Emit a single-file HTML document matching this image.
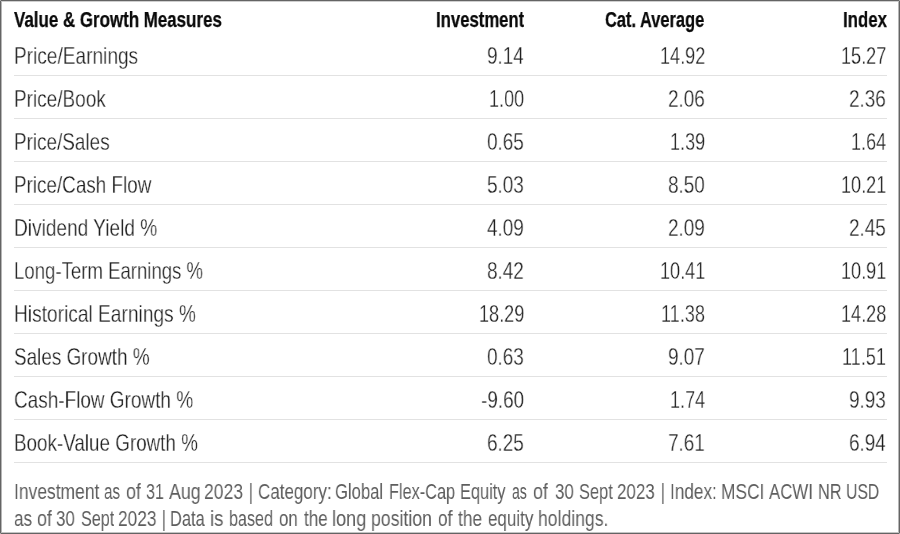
<!DOCTYPE html>
<html><head><meta charset="utf-8"><title>Value &amp; Growth Measures</title>
<style>
html,body{margin:0;padding:0;background:#fff}
#w{position:relative;width:900px;height:534px;overflow:hidden;background:#fff;font-family:"Liberation Sans", sans-serif}
#w span{position:absolute;will-change:transform;white-space:pre;transform-origin:0 0;display:block}
.h{-webkit-text-stroke:0.25px #0a0a0a}
.r{-webkit-text-stroke:0.3px #fff}
#w i{position:absolute;left:14px;width:873px;height:1px;background:#e2e2e2}
#bd{position:absolute;left:0;top:0;width:900px;height:534px;box-sizing:border-box;border:1px solid #646464}
#bd:before{content:"";position:absolute;left:0;top:0;right:0;bottom:0;border-style:solid;border-width:1px;border-color:#cfcfcf #b6b6b6 #c4c4c4 #b6b6b6}
#bd b{position:absolute;width:1px;height:1px;background:#a8a8a8}
.h{font-size:21.6px;line-height:30px;font-weight:bold;color:#0a0a0a}.r{font-size:24.0px;line-height:30px;font-weight:normal;color:#202020}.f{font-size:21.3px;line-height:30px;font-weight:normal;color:#5e5e5e}
</style></head><body><div id="w">
<i style="top:75px"></i><i style="top:118px"></i><i style="top:161px"></i><i style="top:204px"></i><i style="top:247px"></i><i style="top:290px"></i><i style="top:333px"></i><i style="top:376px"></i><i style="top:419px"></i><i style="top:462px"></i>
<span class="h" style="left:14.20px;top:5px;transform:scaleX(0.7836)">Value &amp; Growth Measures</span>
<span class="h" style="left:436.13px;top:5px;transform:scaleX(0.7739)">Investment</span>
<span class="h" style="left:605.20px;top:5px;transform:scaleX(0.7606)">Cat. Average</span>
<span class="h" style="left:842.62px;top:5px;transform:scaleX(0.7781)">Index</span>
<span class="r" style="left:13.70px;top:41px;transform:scaleX(0.7951)">Price/Earnings</span>
<span class="r" style="left:487.47px;top:41px;transform:scaleX(0.7879)">9.14</span>
<span class="r" style="left:659.78px;top:41px;transform:scaleX(0.7540)">14.92</span>
<span class="r" style="left:840.78px;top:41px;transform:scaleX(0.7540)">15.27</span>
<span class="r" style="left:13.71px;top:84px;transform:scaleX(0.7910)">Price/Book</span>
<span class="r" style="left:489.04px;top:84px;transform:scaleX(0.7540)">1.00</span>
<span class="r" style="left:668.27px;top:84px;transform:scaleX(0.7879)">2.06</span>
<span class="r" style="left:849.27px;top:84px;transform:scaleX(0.7879)">2.36</span>
<span class="r" style="left:13.71px;top:127px;transform:scaleX(0.7875)">Price/Sales</span>
<span class="r" style="left:487.47px;top:127px;transform:scaleX(0.7879)">0.65</span>
<span class="r" style="left:669.84px;top:127px;transform:scaleX(0.7540)">1.39</span>
<span class="r" style="left:850.84px;top:127px;transform:scaleX(0.7540)">1.64</span>
<span class="r" style="left:13.71px;top:170px;transform:scaleX(0.7856)">Price/Cash Flow</span>
<span class="r" style="left:487.47px;top:170px;transform:scaleX(0.7879)">5.03</span>
<span class="r" style="left:668.27px;top:170px;transform:scaleX(0.7879)">8.50</span>
<span class="r" style="left:840.78px;top:170px;transform:scaleX(0.7540)">10.21</span>
<span class="r" style="left:13.70px;top:213px;transform:scaleX(0.7952)">Dividend Yield %</span>
<span class="r" style="left:487.47px;top:213px;transform:scaleX(0.7879)">4.09</span>
<span class="r" style="left:668.27px;top:213px;transform:scaleX(0.7879)">2.09</span>
<span class="r" style="left:849.27px;top:213px;transform:scaleX(0.7879)">2.45</span>
<span class="r" style="left:13.73px;top:256px;transform:scaleX(0.7744)">Long-Term Earnings %</span>
<span class="r" style="left:487.47px;top:256px;transform:scaleX(0.7879)">8.42</span>
<span class="r" style="left:659.78px;top:256px;transform:scaleX(0.7540)">10.41</span>
<span class="r" style="left:840.78px;top:256px;transform:scaleX(0.7540)">10.91</span>
<span class="r" style="left:13.70px;top:299px;transform:scaleX(0.7978)">Historical Earnings %</span>
<span class="r" style="left:478.98px;top:299px;transform:scaleX(0.7540)">18.29</span>
<span class="r" style="left:661.12px;top:299px;transform:scaleX(0.7540)">11.38</span>
<span class="r" style="left:840.78px;top:299px;transform:scaleX(0.7540)">14.28</span>
<span class="r" style="left:13.71px;top:342px;transform:scaleX(0.7878)">Sales Growth %</span>
<span class="r" style="left:487.47px;top:342px;transform:scaleX(0.7879)">0.63</span>
<span class="r" style="left:668.27px;top:342px;transform:scaleX(0.7879)">9.07</span>
<span class="r" style="left:842.12px;top:342px;transform:scaleX(0.7540)">11.51</span>
<span class="r" style="left:13.71px;top:385px;transform:scaleX(0.7898)">Cash-Flow Growth %</span>
<span class="r" style="left:481.17px;top:385px;transform:scaleX(0.7879)">-9.60</span>
<span class="r" style="left:669.84px;top:385px;transform:scaleX(0.7540)">1.74</span>
<span class="r" style="left:849.27px;top:385px;transform:scaleX(0.7879)">9.93</span>
<span class="r" style="left:13.72px;top:428px;transform:scaleX(0.7846)">Book-Value Growth %</span>
<span class="r" style="left:487.47px;top:428px;transform:scaleX(0.7879)">6.25</span>
<span class="r" style="left:668.27px;top:428px;transform:scaleX(0.7879)">7.61</span>
<span class="r" style="left:849.27px;top:428px;transform:scaleX(0.7879)">6.94</span>
<span class="f" style="left:14.08px;top:477px;transform:scaleX(0.8194)">Investment</span>
<span class="f" style="left:104.30px;top:477px;transform:scaleX(0.7187)">as</span>
<span class="f" style="left:125.70px;top:477px;transform:scaleX(0.8406)">of</span>
<span class="f" style="left:145.70px;top:477px;transform:scaleX(0.7573)">31</span>
<span class="f" style="left:169.00px;top:477px;transform:scaleX(0.8367)">Aug</span>
<span class="f" style="left:203.87px;top:477px;transform:scaleX(0.8258)">2023</span>
<span class="f" style="left:248.83px;top:477px;transform:scaleX(0.6667)">|</span>
<span class="f" style="left:257.90px;top:477px;transform:scaleX(0.7974)">Category:</span>
<span class="f" style="left:335.22px;top:477px;transform:scaleX(0.7805)">Global</span>
<span class="f" style="left:388.53px;top:477px;transform:scaleX(0.7652)">Flex-Cap</span>
<span class="f" style="left:460.23px;top:477px;transform:scaleX(0.7687)">Equity</span>
<span class="f" style="left:512.30px;top:477px;transform:scaleX(0.6592)">as</span>
<span class="f" style="left:533.30px;top:477px;transform:scaleX(0.8406)">of</span>
<span class="f" style="left:555.00px;top:477px;transform:scaleX(0.7968)">30</span>
<span class="f" style="left:578.90px;top:477px;transform:scaleX(0.7700)">Sept</span>
<span class="f" style="left:616.90px;top:477px;transform:scaleX(0.7972)">2023</span>
<span class="f" style="left:660.83px;top:477px;transform:scaleX(0.6667)">|</span>
<span class="f" style="left:670.39px;top:477px;transform:scaleX(0.8076)">Index:</span>
<span class="f" style="left:720.89px;top:477px;transform:scaleX(0.8147)">MSCI</span>
<span class="f" style="left:769.30px;top:477px;transform:scaleX(0.7898)">ACWI</span>
<span class="f" style="left:817.53px;top:477px;transform:scaleX(0.7658)">NR</span>
<span class="f" style="left:846.06px;top:477px;transform:scaleX(0.7388)">USD</span>
<span class="f" style="left:14.00px;top:504px;transform:scaleX(0.8103)">as</span>
<span class="f" style="left:36.70px;top:504px;transform:scaleX(0.8406)">of</span>
<span class="f" style="left:56.00px;top:504px;transform:scaleX(0.7968)">30</span>
<span class="f" style="left:81.00px;top:504px;transform:scaleX(0.7587)">Sept</span>
<span class="f" style="left:118.19px;top:504px;transform:scaleX(0.8126)">2023</span>
<span class="f" style="left:161.83px;top:504px;transform:scaleX(0.6667)">|</span>
<span class="f" style="left:170.23px;top:504px;transform:scaleX(0.7703)">Data</span>
<span class="f" style="left:209.83px;top:504px;transform:scaleX(0.8739)">is</span>
<span class="f" style="left:229.24px;top:504px;transform:scaleX(0.7583)">based</span>
<span class="f" style="left:279.20px;top:504px;transform:scaleX(0.7923)">on</span>
<span class="f" style="left:304.30px;top:504px;transform:scaleX(0.7997)">the</span>
<span class="f" style="left:332.45px;top:504px;transform:scaleX(0.8511)">long</span>
<span class="f" style="left:371.47px;top:504px;transform:scaleX(0.8301)">position</span>
<span class="f" style="left:438.30px;top:504px;transform:scaleX(0.8070)">of</span>
<span class="f" style="left:458.30px;top:504px;transform:scaleX(0.8136)">the</span>
<span class="f" style="left:487.70px;top:504px;transform:scaleX(0.7975)">equity</span>
<span class="f" style="left:538.47px;top:504px;transform:scaleX(0.8259)">holdings.</span>
<div id="bd"><b style="left:-1px;top:-1px"></b><b style="right:-1px;top:-1px"></b><b style="left:-1px;bottom:-1px"></b><b style="right:-1px;bottom:-1px"></b></div>
</div></body></html>
